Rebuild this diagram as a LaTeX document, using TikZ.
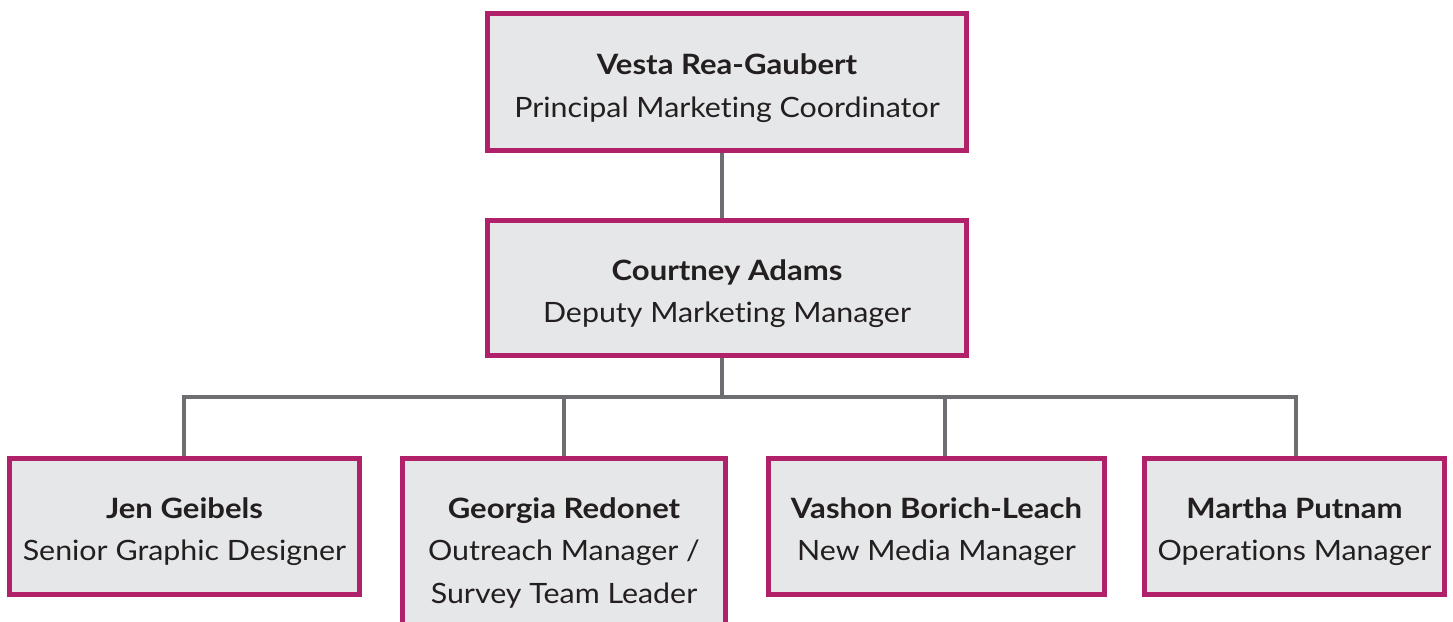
\documentclass[tikz,border=0pt]{standalone}
\usepackage{fontspec}
\setmainfont{Lato}[Ligatures={NoCommon}]
\usetikzlibrary{backgrounds}
\definecolor{mag}{HTML}{B0216A}
\definecolor{boxfill}{HTML}{E6E7E8}
\definecolor{conngray}{HTML}{6D6E71}
\definecolor{txt}{HTML}{231F20}
\begin{document}
\begin{tikzpicture}[x=1pt,y=-1pt,
  box/.style={draw=mag, fill=boxfill, line width=5pt, rectangle, inner sep=0pt},
  conn/.style={draw=conngray, line width=4pt},
  namet/.style={anchor=base, text=txt, font=\fontsize{28}{34}\selectfont\bfseries\addfontfeature{FakeStretch=1.11}, inner sep=0pt},
  rolet/.style={anchor=base, text=txt, font=\fontsize{28}{34}\selectfont\addfontfeature{FakeStretch=1.085}, inner sep=0pt}]
\useasboundingbox (0,0) rectangle (1453,621);
\clip (0,0) rectangle (1453,621);
% boxes
\node[box, minimum width=479pt, minimum height=137pt] (vesta) at (727,82) {};
\node[box, minimum width=479pt, minimum height=135pt] (courtney) at (727,288) {};
\node[box, minimum width=350pt, minimum height=136pt] (jen) at (184.5,526.5) {};
\node[box, minimum width=323pt, minimum height=189pt] (georgia) at (564,553) {};
\node[box, minimum width=336pt, minimum height=136pt] (vashon) at (936.5,526.5) {};
\node[box, minimum width=300pt, minimum height=136pt] (martha) at (1294.5,526.5) {};
% texts
\node[namet] (vesta-n) at (727,74) {Vesta Rea-Gaubert};
\node[rolet] (vesta-r) at (727,117) {Principal Marketing Coordinator};
\node[namet] (courtney-n) at (727,280) {Courtney Adams};
\node[rolet] (courtney-r) at (727,322) {Deputy Marketing Manager};
\node[namet] (jen-n) at (184.5,518) {Jen Geibels};
\node[rolet] (jen-r) at (184.5,560) {Senior Graphic Designer};
\node[namet] (georgia-n) at (564,518) {Georgia Redonet};
\node[rolet] (georgia-r1) at (564,560) {Outreach Manager /};
\node[rolet] (georgia-r2) at (564,603) {Survey Team Leader};
\node[namet] (vashon-n) at (936.5,518) {Vashon Borich-Leach};
\node[rolet] (vashon-r) at (936.5,560) {New Media Manager};
\node[namet] (martha-n) at (1294.5,518) {Martha Putnam};
\node[rolet] (martha-r) at (1294.5,560) {Operations Manager};
% connectors
\coordinate (trunk) at (721.5,0);
\coordinate (bar) at (0,397);
\coordinate (jx) at (184,0);
\coordinate (gx) at (564,0);
\coordinate (vx) at (944.5,0);
\coordinate (mx) at (1296,0);
\begin{scope}[on background layer]
\draw[conn] (vesta.south -| trunk) -- (courtney.north -| trunk);
\draw[conn] (courtney.south -| trunk) -- (bar -| trunk);
\draw[conn] (jen.north -| jx) -- (bar -| jx) -- (bar -| mx) -- (martha.north -| mx);
\draw[conn] (bar -| gx) -- (georgia.north -| gx);
\draw[conn] (bar -| vx) -- (vashon.north -| vx);
\end{scope}
\end{tikzpicture}
\end{document}
